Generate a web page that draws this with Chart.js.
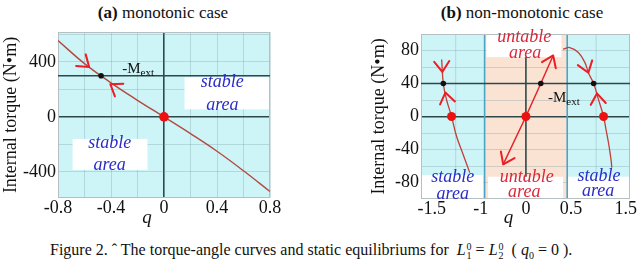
<!DOCTYPE html>
<html>
<head>
<meta charset="utf-8">
<script src="https://cdn.jsdelivr.net/npm/chart.js@4.4.1/dist/chart.umd.min.js"></script>
<style>
html,body{margin:0;padding:0;background:#fff;}
body{width:640px;height:262px;position:relative;overflow:hidden;font-family:"Liberation Serif","Times New Roman",serif;color:#111;}
canvas{position:absolute;top:0;}
#ca{left:0;} #cb{left:320px;}
.title{position:absolute;top:3px;width:240px;text-align:center;font-family:"Liberation Serif","Times New Roman",serif;font-size:17px;line-height:20px;white-space:nowrap;}
#ta{left:43px;} #tb{left:402px;}
#cap{position:absolute;left:50px;top:241px;font-family:"Liberation Serif","Times New Roman",serif;font-size:16px;line-height:18px;white-space:nowrap;}
.ss{display:inline-block;vertical-align:-4px;font-size:10px;line-height:9px;margin-left:1px;}
.ss span{display:block;}
sub{font-size:10px;}
</style>
</head>
<body>
<div class="title" id="ta"><b>(a)</b> monotonic case</div>
<div class="title" id="tb"><b>(b)</b> non-monotonic case</div>
<canvas id="ca" width="320" height="232"></canvas>
<canvas id="cb" width="320" height="232"></canvas>
<div id="cap">Figure 2. ˆ The torque-angle curves and static equilibriums for&nbsp; <i>L</i><span class="ss"><span>0</span><span>1</span></span> = <i>L</i><span class="ss"><span>0</span><span>2</span></span> &nbsp;( <i>q</i><sub>0</sub> = 0 ).</div>
<script>
// ---------------- Panel (a): monotonic case ----------------
const qA       = [-0.8, -0.6, -0.4, -0.2, 0, 0.2, 0.4, 0.6, 0.8];
const torqueA  = [556, 388, 248, 121, 0, -122, -250, -392, -543];
const mExtA    = 300;
const eqQA     = [0];
const eqTA     = [0];
const extEqQA  = [-0.475];
const extEqTA  = [300];
const xGridA   = [-0.8, -0.6, -0.4, -0.2, 0, 0.2, 0.4, 0.6, 0.8];
const xLabelsA = [-0.8, -0.4, 0, 0.4, 0.8];
const yGridA   = [-400, -200, 0, 200, 400, 600];
const yLabelsA = [-400, 0, 400];
const arrowTipQA  = [-0.565, -0.405];
const arrowTipTA  = [364, 238];
const arrowFromQA = [-0.7, -0.3];
const arrowFromTA = [470, 170];

// ---------------- Panel (b): non-monotonic case ----------------
const qBLeft   = [-1.02, -1.00, -0.96, -0.90, -0.84, -0.76, -0.68];
const tBLeft   = [69, 40, 20, 0, -24, -46, -68];
const qBMid    = [-0.275, 0, 0.18, 0.33];
const tBMid    = [-58, 0, 40, 74];
const qBRight  = [0.45, 0.53, 0.635, 0.716, 0.756, 0.82, 0.877, 0.94, 0.97, 1.0, 1.03, 1.04];
const tBRight  = [81.6, 83.6, 77.6, 65, 53, 40, 21, 0, -16, -32, -52, -62];
const mExtB    = 40;
const eqQB     = [-0.9, 0, 0.94];
const eqTB     = [0, 0, 0];
const extEqQB  = [-1.0, 0.18, 0.82];
const extEqTB  = [40, 40, 40];
const unstableFromB = -0.5;
const unstableToB   = 0.5;
const xTickPosB    = [-1.14, -0.546, 0, 0.546, 1.21];
const xTickLabelsB = ['-1.5', '-1', '0', '0.5', '1.5'];
const xGridB   = [-0.85, 0.85];
const yGridB   = [-80, -60, -40, -20, 0, 20, 40, 60, 80];
const yLabelsB = [-80, -40, 0, 40, 80];
const arrowTipQB  = [-1.012, -0.975, 0.33, -0.275, 0.756, 0.86];
const arrowTipTB  = [54, 29, 74, -58, 53, 28];
const arrowFromQB = [-1.02, -0.94, 0.18, 0, 0.716, 0.88];
const arrowFromTB = [69, 12, 40, 0, 65, 12];

// ---------------- styling ----------------
const SERIF = '"Liberation Serif","Times New Roman",serif';
const CYAN = '#cdf5f8';
const PEACH = '#fbe3d4';
const DARK = '#2e4848';
const FAINT = 'rgba(100,140,150,0.28)';
const BLUE_TXT = '#2b2bc8';
const RED_TXT = '#d9283a';
const ARROW = '#ee1c24';
const near = (a, b) => Math.abs(a - b) < 1e-6;
const pts = (qs, ts) => qs.map((q, i) => ({x: q, y: ts[i]}));

const panelPlugin = {
  id: 'panel',
  beforeDraw(chart, args, o) {
    const {ctx, chartArea: a, scales: {x}} = chart;
    ctx.save();
    ctx.fillStyle = CYAN;
    ctx.fillRect(a.left, a.top, a.width, a.height);
    (o.regions || []).forEach(r => {
      const x1 = x.getPixelForValue(r.from), x2 = x.getPixelForValue(r.to);
      ctx.fillStyle = r.color;
      ctx.fillRect(x1, a.top, x2 - x1, a.height);
    });
    ctx.restore();
  },
  beforeDatasetsDraw(chart, args, o) {
    const {ctx, chartArea: a, scales: {x, y}} = chart;
    ctx.save();
    (o.vlines || []).forEach(l => {
      const px = x.getPixelForValue(l.q);
      ctx.strokeStyle = l.color; ctx.lineWidth = l.width;
      ctx.beginPath(); ctx.moveTo(px, a.top); ctx.lineTo(px, a.bottom); ctx.stroke();
    });
    (o.boxes || []).forEach(b => {
      const x1 = x.getPixelForValue(b.q1), x2 = x.getPixelForValue(b.q2);
      const y1 = y.getPixelForValue(b.t1), y2 = y.getPixelForValue(b.t2);
      ctx.fillStyle = '#ffffff';
      ctx.fillRect(Math.min(x1, x2), Math.min(y1, y2), Math.abs(x2 - x1), Math.abs(y2 - y1));
    });
    ctx.strokeStyle = '#b4c0c2'; ctx.lineWidth = 1;
    ctx.strokeRect(a.left + 0.5, a.top + 0.5, a.width - 1, a.height - 1);
    ctx.restore();
  },
  afterDatasetsDraw(chart, args, o) {
    const {ctx, chartArea: a, scales: {x, y}} = chart;
    ctx.save();
    ctx.textAlign = 'center'; ctx.textBaseline = 'middle';
    (o.texts || []).forEach(t => {
      ctx.font = 'italic 18px ' + SERIF;
      ctx.fillStyle = t.color;
      ctx.fillText(t.txt, x.getPixelForValue(t.q), y.getPixelForValue(t.t));
    });
    const ar = o.arrows;
    if (ar) {
      ctx.strokeStyle = ARROW; ctx.lineWidth = 2; ctx.lineCap = 'round'; ctx.lineJoin = 'round';
      ar.tipQ.forEach((tq, i) => {
        const tx = x.getPixelForValue(tq), ty = y.getPixelForValue(ar.tipT[i]);
        const fx = x.getPixelForValue(ar.fromQ[i]), fy = y.getPixelForValue(ar.fromT[i]);
        const ang = Math.atan2(ty - fy, tx - fx);
        const L = 13, sp = 0.62;
        ctx.beginPath();
        ctx.moveTo(tx - L * Math.cos(ang - sp), ty - L * Math.sin(ang - sp));
        ctx.lineTo(tx, ty);
        ctx.lineTo(tx - L * Math.cos(ang + sp), ty - L * Math.sin(ang + sp));
        ctx.stroke();
      });
    }
    if (o.mext) {
      const px = x.getPixelForValue(o.mext.q), py = y.getPixelForValue(o.mext.t);
      ctx.fillStyle = '#111'; ctx.textAlign = 'left'; ctx.textBaseline = 'alphabetic';
      ctx.font = '15px ' + SERIF;
      ctx.fillText('-M', px, py);
      const w = ctx.measureText('-M').width;
      ctx.font = '11px ' + SERIF;
      ctx.fillText('ext', px + w, py + 3);
    }
    if (o.qLabel) {
      ctx.font = 'italic 19px ' + SERIF;
      ctx.fillStyle = '#111'; ctx.textAlign = 'center'; ctx.textBaseline = 'middle';
      ctx.fillText('q', (a.left + a.right) / 2 + o.qLabel.dx, a.bottom + o.qLabel.dy);
    }
    ctx.restore();
  }
};

function makeChart(id, cfg) {
  return new Chart(document.getElementById(id), {
    type: 'scatter',
    data: {datasets: cfg.datasets},
    plugins: [panelPlugin],
    options: {
      responsive: false, animation: false, devicePixelRatio: 1,
      layout: {padding: cfg.padding},
      plugins: {legend: {display: false}, tooltip: {enabled: false}, panel: cfg.panel},
      scales: {
        x: {
          type: 'linear', min: cfg.xMin, max: cfg.xMax,
          afterBuildTicks: s => { s.ticks = cfg.xTicks.map(v => ({value: v})); },
          afterFit: s => { s.height = cfg.xHeight; },
          border: {display: false},
          grid: {
            display: cfg.xGridShow, drawTicks: false,
            color: c => (c.tick && near(c.tick.value, 0)) ? DARK : FAINT,
            lineWidth: c => (c.tick && near(c.tick.value, 0)) ? 1.6 : 1
          },
          ticks: {
            autoSkip: false, maxRotation: 0, padding: -1, color: '#111',
            font: {family: SERIF, size: 18},
            callback: cfg.xLabel
          }
        },
        y: {
          type: 'linear', min: cfg.yMin, max: cfg.yMax,
          afterBuildTicks: s => { s.ticks = cfg.yTicks.map(v => ({value: v})); },
          afterFit: s => { s.width = cfg.yWidth; },
          border: {display: false},
          grid: {
            drawTicks: false,
            color: c => (c.tick && near(c.tick.value, 0)) ? DARK : FAINT,
            lineWidth: c => (c.tick && near(c.tick.value, 0)) ? 1.6 : 1
          },
          ticks: {
            autoSkip: false, padding: 2, color: '#111',
            font: {family: SERIF, size: 18},
            callback: v => cfg.yLabels.some(l => near(l, v)) ? String(v) : ''
          },
          title: {display: true, text: 'Internal torque (N•m)', color: '#111',
                  font: {family: SERIF, size: 18}, padding: {top: 0, bottom: 0}}
        }
      }
    }
  });
}

const xMinA = -0.8, xMaxA = 0.8;
makeChart('ca', {
  padding: {left: 0, right: 50, top: 32, bottom: 0},
  xMin: xMinA, xMax: xMaxA, yMin: -590, yMax: 618,
  xTicks: xGridA, yTicks: yGridA, yLabels: yLabelsA,
  xGridShow: true, xHeight: 34, yWidth: 58,
  xLabel: v => xLabelsA.some(l => near(l, v)) ? (near(v, 0) ? '0' : v.toFixed(1)) : '',
  datasets: [
    {data: pts(eqQA, eqTA), pointRadius: 4.8, pointBackgroundColor: '#ee1111', pointBorderWidth: 0, showLine: false},
    {data: pts(extEqQA, extEqTA), pointRadius: 2.8, pointBackgroundColor: '#111', pointBorderWidth: 0, showLine: false},
    {data: pts(qA, torqueA), showLine: true, borderColor: '#b5493f', borderWidth: 1.4, pointRadius: 0, tension: 0.4},
    {data: pts([xMinA, xMaxA], [mExtA, mExtA]), showLine: true, borderColor: DARK, borderWidth: 1.6, pointRadius: 0}
  ],
  panel: {
    boxes: [
      {q1: 0.155, q2: 0.8, t1: 55, t2: 288},
      {q1: -0.69, q2: -0.125, t1: -160, t2: -385}
    ],
    texts: [
      {txt: 'stable', q: 0.44, t: 255, color: BLUE_TXT},
      {txt: 'area', q: 0.44, t: 88, color: BLUE_TXT},
      {txt: 'stable', q: -0.41, t: -190, color: BLUE_TXT},
      {txt: 'area', q: -0.41, t: -350, color: BLUE_TXT}
    ],
    arrows: {tipQ: arrowTipQA, tipT: arrowTipTA, fromQ: arrowFromQA, fromT: arrowFromTA},
    mext: {q: -0.315, t: 318},
    qLabel: {dx: -17, dy: 20}
  }
});

const xMinB = -1.27, xMaxB = 1.26;
makeChart('cb', {
  padding: {left: 48, right: 10, top: 34, bottom: 0},
  xMin: xMinB, xMax: xMaxB, yMin: -100, yMax: 100,
  xTicks: xTickPosB, yTicks: yGridB, yLabels: yLabelsB,
  xGridShow: false, xHeight: 33, yWidth: 53,
  xLabel: (v, i) => xTickLabelsB[i],
  datasets: [
    {data: pts(eqQB, eqTB), pointRadius: 4.5, pointBackgroundColor: '#ee1111', pointBorderWidth: 0, showLine: false},
    {data: pts(extEqQB, extEqTB), pointRadius: 2.8, pointBackgroundColor: '#111', pointBorderWidth: 0, showLine: false},
    {data: pts(qBMid, tBMid), showLine: true, borderColor: '#e3262b', borderWidth: 1.5, pointRadius: 0, tension: 0},
    {data: pts(qBLeft, tBLeft), showLine: true, borderColor: '#c0403a', borderWidth: 1.3, pointRadius: 0, tension: 0.4},
    {data: pts(qBRight, tBRight), showLine: true, borderColor: '#c0403a', borderWidth: 1.3, pointRadius: 0, tension: 0.4},
    {data: pts([xMinB, xMaxB], [mExtB, mExtB]), showLine: true, borderColor: DARK, borderWidth: 1.6, pointRadius: 0}
  ],
  panel: {
    regions: [{from: unstableFromB, to: unstableToB, color: PEACH}],
    vlines: [
      {q: xGridB[0], color: FAINT, width: 1},
      {q: xGridB[1], color: FAINT, width: 1},
      {q: 0, color: DARK, width: 1.6},
      {q: unstableFromB, color: '#4aa4c6', width: 1.6},
      {q: unstableToB, color: '#4aa4c6', width: 1.6}
    ],
    boxes: [
      {q1: -0.477, q2: 0.43, t1: 72, t2: 100},
      {q1: -1.27, q2: -0.52, t1: -71, t2: -100},
      {q1: -0.46, q2: 0.45, t1: -73, t2: -100},
      {q1: 0.51, q2: 1.26, t1: -73, t2: -100}
    ],
    texts: [
      {txt: 'untable', q: -0.02, t: 96, color: RED_TXT},
      {txt: 'area', q: -0.01, t: 77, color: RED_TXT},
      {txt: 'stable', q: -0.886, t: -74, color: BLUE_TXT},
      {txt: 'area', q: -0.886, t: -94, color: BLUE_TXT},
      {txt: 'untable', q: 0.01, t: -74, color: RED_TXT},
      {txt: 'area', q: -0.02, t: -92, color: RED_TXT},
      {txt: 'stable', q: 0.886, t: -73, color: BLUE_TXT},
      {txt: 'area', q: 0.874, t: -91, color: BLUE_TXT}
    ],
    arrows: {tipQ: arrowTipQB, tipT: arrowTipTB, fromQ: arrowFromQB, fromT: arrowFromTB},
    mext: {q: 0.267, t: 17},
    qLabel: {dx: -17, dy: 19}
  }
});
</script>
</body>
</html>
